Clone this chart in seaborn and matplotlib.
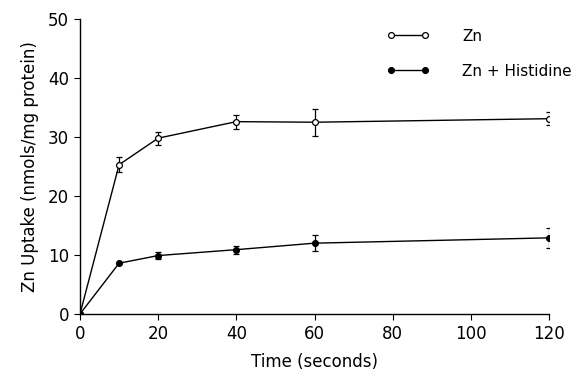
import matplotlib
matplotlib.use("Agg")
import matplotlib.pyplot as plt
import seaborn as sns
import pandas as pd
import numpy as np

time_s = [0, 10, 20, 40, 60, 120]
zn = [0, 25.3, 29.8, 32.6, 32.5, 33.1]
zn_err = [0, 1.3, 1.1, 1.2, 2.3, 1.1]
zn_his = [0, 8.6, 9.9, 10.9, 12.0, 12.9]
zn_his_err = [0, 0, 0.6, 0.7, 1.4, 1.7]
series_names = ["Zn", "Zn + Histidine"]
x_ticks = [0, 20, 40, 60, 80, 100, 120]
y_ticks = [0, 10, 20, 30, 40, 50]

sns.set_theme(style="ticks")
plt.rcParams['font.family'] = ['DejaVu Sans']
plt.rcParams['text.color'] = 'black'
plt.rcParams['axes.labelcolor'] = 'black'
plt.rcParams['xtick.color'] = 'black'
plt.rcParams['ytick.color'] = 'black'

df = pd.DataFrame({
    "time": time_s * 2,
    "uptake": zn + zn_his,
    "err": zn_err + zn_his_err,
    "series": [series_names[0]] * len(time_s) + [series_names[1]] * len(time_s),
})

fig = plt.figure(figsize=(5.81, 3.76), dpi=100)
ax = fig.add_axes([0.1377, 0.165, 0.8073, 0.7845])

styles = {
    series_names[0]: dict(mfc="white"),
    series_names[1]: dict(mfc="black"),
}
for name in series_names:
    sub = df[df["series"] == name]
    sns.lineplot(data=sub, x="time", y="uptake", ax=ax, color="black", lw=1.0,
                 marker="o", markersize=4.2, markeredgecolor="black",
                 markerfacecolor=styles[name]["mfc"], markeredgewidth=0.9,
                 label=name, zorder=3)
    e = sub["err"].values
    mask = e > 0
    ax.errorbar(sub["time"].values[mask], sub["uptake"].values[mask], yerr=e[mask],
                fmt="none", ecolor="black", elinewidth=0.9, capsize=2.5, capthick=0.9, zorder=2)

ax.set_xlim(0, 120)
ax.set_ylim(0, 50)
ax.set_xticks(x_ticks)
ax.set_yticks(y_ticks)
ax.tick_params(axis="both", labelsize=12, length=4, width=0.8, pad=4)
for s in ["top", "right"]:
    ax.spines[s].set_visible(False)
for s in ["left", "bottom"]:
    ax.spines[s].set_linewidth(1.0)
    ax.spines[s].set_color("black")

ax.set_xlabel("Time (seconds)", fontsize=12, labelpad=7)
ax.set_ylabel("Zn Uptake (nmols/mg protein)", fontsize=12, labelpad=6)

leg = ax.legend(loc="upper right", bbox_to_anchor=(0.995, 0.94),
                bbox_transform=fig.transFigure, frameon=False, numpoints=2,
                handlelength=2.8, handletextpad=2.15, labelspacing=1.3, fontsize=11,
                borderaxespad=0)

fig.savefig("out.png", dpi=100)
